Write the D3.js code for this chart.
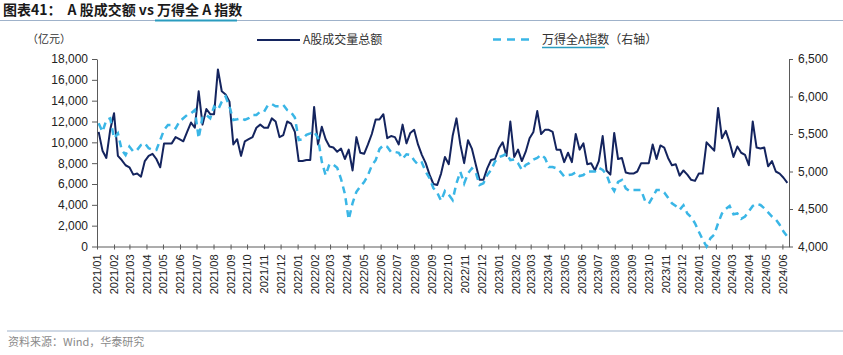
<!DOCTYPE html>
<html><head><meta charset="utf-8">
<script src="https://cdn.jsdelivr.net/npm/d3@7/dist/d3.min.js"></script>
<style>
html,body{margin:0;padding:0;background:#fff;}
svg{display:block;font-family:"Liberation Sans",Arial,sans-serif;}
.cjk{font-family:"Noto Sans CJK SC","Noto Sans",sans-serif;}
</style></head>
<body><svg id="c" width="843" height="355"></svg>
<script>
// ---- data (weekly readings, Mondays from 2021-01-04 to 2024-06-10) ----
const startWeek = "2021-01-04";
const endWeek = "2024-06-11";
const turnover = [
11000,9200,8500,11200,12800,8700,8300,7800,7600,6900,
7000,6700,8200,8700,8900,8400,7600,9900,9900,9900,
10500,10300,10100,11000,11900,11400,14900,11700,13200,12700,
12700,17000,14900,14600,13900,9800,10300,8700,10100,10300,
10500,11400,11700,11400,11400,12300,12000,10500,10700,12000,
11800,11000,8200,8200,8300,8300,13400,9800,11500,10300,
9600,9500,9100,9400,8400,9300,7300,10500,9000,8900,
9800,10800,12200,12200,12700,10400,10600,10500,9800,11700,
9900,10900,11200,9800,8800,8000,6900,6000,5900,7000,
8600,7900,10600,12300,9800,8000,10200,9400,7900,6400,
6400,7500,8300,8400,9400,10000,8700,12000,8600,9300,
8200,9100,10400,11000,13000,10800,11200,11200,11000,9300,
9300,8100,9000,8100,10800,9300,9900,7900,8000,7300,
8200,10600,7300,6900,10900,8400,8500,7100,7000,7000,
7200,8000,8000,8000,9800,8400,9700,9500,8500,7800,
7900,6800,7300,6900,6400,6300,7000,7000,10000,9600,
9200,13300,10400,11100,10000,8600,9600,9000,8800,7800,
12000,9500,9400,9500,7700,8200,7200,7000,6600,6100
];
const windA = [
5643,5530,5687,5710,5443,5510,5287,5220,5332,5265,
5287,5354,5376,5310,5287,5287,5420,5554,5620,5620,
5576,5665,5710,5754,5776,5820,5443,5732,5754,5710,
5865,5820,5931,5998,5865,5687,5696,5710,5687,5710,
5754,5754,5798,5798,5887,5900,5870,5870,5887,5820,
5790,5720,5420,5430,5490,5509,5530,5450,5131,4950,
5100,5090,5050,4900,4700,4360,4580,4730,4800,4860,
4950,5080,5150,5300,5350,5330,5260,5260,5250,5170,
5230,5220,5150,5090,5120,5000,4910,4780,4720,4610,
4740,4690,4620,4842,4998,4840,4976,5042,4990,4820,
4842,4953,5020,5130,5190,5210,5240,5153,5160,5110,
5020,5087,5115,5160,5180,5225,5180,5060,5060,5042,
4998,4935,4953,4960,4990,4940,4953,5000,5000,5000,
5050,5020,4960,4820,4740,4860,4887,4776,4740,4753,
4753,4753,4610,4570,4660,4753,4753,4720,4650,4576,
4540,4490,4550,4440,4390,4310,4198,4090,4000,4109,
4160,4310,4440,4500,4540,4430,4440,4370,4400,4470,
4540,4570,4554,4510,4455,4400,4360,4290,4200,4131
];
const leftTicks = [0,2000,4000,6000,8000,10000,12000,14000,16000,18000];
const rightTicks = [4000,4500,5000,5500,6000,6500];
const titleText = ["图表41：", "A 股成交额 vs 万得全 A 指数"];
const unitText = "（亿元）";
const legendNames = ["A股成交量总额", "万得全A指数（右轴）"];
const sourceText = "资料来源：Wind，华泰研究";

// ---- layout ----
const W = 843, H = 355;
const plot = {l: 97, r: 789, t: 59, b: 246.5};
const navy = "#14245e", cyan = "#3ab6e6", axisCol = "#5a5a5a";

const parse = d3.timeParse("%Y-%m-%d");
const dates = d3.timeMonday.range(parse(startWeek), parse(endWeek));
const rowsL = dates.map((d,i)=>({d, v: turnover[i]}));
const rowsR = dates.map((d,i)=>({d, v: windA[i]}));

const svg = d3.select("#c");

const x = d3.scaleTime().domain([parse("2021-01-01"), parse("2024-06-13")]).range([plot.l, plot.r]);
const yL = d3.scaleLinear().domain([0,18000]).range([plot.b, plot.t]);
const yR = d3.scaleLinear().domain([4000,6500]).range([plot.b, plot.t]);

// title
const t = svg.append("text").attr("class","cjk").attr("x",3).attr("y",15)
  .attr("font-size",14).attr("font-weight","bold").attr("fill","#1a1a1a");
t.append("tspan").text(titleText[0]);
t.append("tspan").attr("dx",6).text(titleText[1]);
svg.append("line").attr("x1",0).attr("x2",W).attr("y1",20.5).attr("y2",20.5)
  .attr("stroke","#9fb2ca").attr("stroke-width",1.2);
svg.append("line").attr("x1",155).attr("x2",237).attr("y1",20.5).attr("y2",20.5)
  .attr("stroke","#2a9cbf").attr("stroke-width",2);

// unit
svg.append("text").attr("class","cjk").attr("x",27).attr("y",43)
  .attr("font-size",11).attr("fill","#333").text(unitText);

// legend
svg.append("line").attr("x1",257).attr("x2",300).attr("y1",40).attr("y2",40)
  .attr("stroke",navy).attr("stroke-width",2.2);
svg.append("text").attr("class","cjk").attr("x",303).attr("y",44)
  .attr("font-size",12).attr("fill","#333").text(legendNames[0]);
svg.append("line").attr("x1",493).attr("x2",531).attr("y1",39.5).attr("y2",39.5)
  .attr("stroke",cyan).attr("stroke-width",2.5).attr("stroke-dasharray","8,6");
svg.append("text").attr("class","cjk").attr("x",542).attr("y",44)
  .attr("font-size",12).attr("fill","#333").text(legendNames[1]);
svg.append("line").attr("x1",542).attr("x2",605).attr("y1",47.5).attr("y2",47.5)
  .attr("stroke","#2a9cbf").attr("stroke-width",1.5);

// axes
function styleAxis(g){
  g.selectAll("path,line").attr("stroke",axisCol).attr("stroke-width",1);
  g.selectAll("text").attr("fill","#222");
}
const gL = svg.append("g").attr("transform",`translate(${plot.l},0)`)
  .call(d3.axisLeft(yL).tickValues(leftTicks).tickFormat(d3.format(",")).tickSize(5).tickSizeOuter(0).tickPadding(4))
  .attr("font-size",12).attr("font-family","Liberation Sans, Arial, sans-serif");
styleAxis(gL);
const gR = svg.append("g").attr("transform",`translate(${plot.r},0)`)
  .call(d3.axisRight(yR).tickValues(rightTicks).tickFormat(d3.format(",")).tickSize(4).tickSizeOuter(0).tickPadding(5))
  .attr("font-size",12).attr("font-family","Liberation Sans, Arial, sans-serif");
styleAxis(gR);
const gX = svg.append("g").attr("transform",`translate(0,${plot.b})`)
  .call(d3.axisBottom(x).ticks(d3.timeMonth.every(1)).tickFormat(d3.timeFormat("%Y/%m")).tickSize(3).tickSizeOuter(0))
  .attr("font-size",11).attr("font-family","Liberation Sans, Arial, sans-serif");
styleAxis(gX);
gX.selectAll(".tick line").attr("y1",-2).attr("y2",3);
gX.selectAll(".tick text").attr("transform","rotate(-90)").attr("x",-8).attr("y",0)
  .attr("dy","0.35em").style("text-anchor","end");

// series
const lineL = d3.line().x(d=>x(d.d)).y(d=>yL(d.v));
const lineR = d3.line().x(d=>x(d.d)).y(d=>yR(d.v));
svg.append("path").datum(rowsL).attr("d",lineL).attr("fill","none")
  .attr("stroke",navy).attr("stroke-width",2).attr("stroke-linejoin","round");
svg.append("path").datum(rowsR).attr("d",lineR).attr("fill","none")
  .attr("stroke",cyan).attr("stroke-width",2.5).attr("stroke-dasharray","7,5");

// footer
svg.append("line").attr("x1",7).attr("x2",W).attr("y1",331).attr("y2",331)
  .attr("stroke","#9fb2ca").attr("stroke-width",1.2);
svg.append("text").attr("class","cjk").attr("x",8).attr("y",346)
  .attr("font-size",11).attr("fill","#8a8a8a").text(sourceText);
</script></body></html>
